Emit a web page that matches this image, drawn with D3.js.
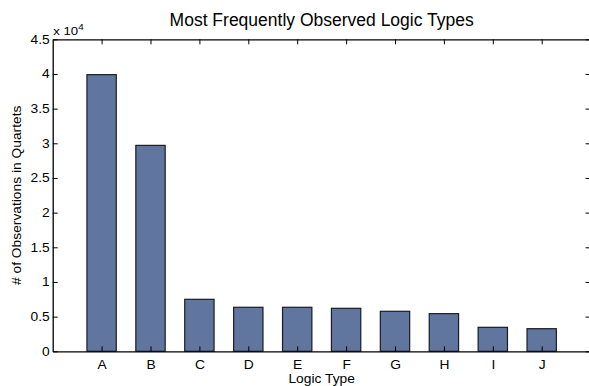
<html>
<head>
<script src="https://d3js.org/d3.v7.min.js"></script>
<style>
  body { margin: 0; background: #fff; }
  text { font-family: "Liberation Sans", Arial, sans-serif; fill: #000; }
</style>
</head>
<body>
<div id="chart_area"></div>
<script>
    // data
    let categories = ["A", "B", "C", "D", "E", "F", "G", "H", "I", "J"];
    let counts = [39900, 29700, 7500, 6350, 6350, 6200, 5770, 5430, 3460, 3260];
    let yTicks = [0, 5000, 10000, 15000, 20000, 25000, 30000, 35000, 40000, 45000];

    let width = 589;
    let height = 386;
    let margin = {left: 52.7, top: 39.3, right: 590.6, bottom: 351.3};
    let sx = 1.15; // the original's text is a bit wider than Liberation Sans

    let svg = d3.select("#chart_area").append("svg")
        .attr("width", width)
        .attr("height", height);

    // widen a text horizontally around its anchor point
    function stretch(sel) {
        sel.each(function() {
            let t = d3.select(this);
            let xv = +t.attr("x") || 0;
            t.attr("x", xv / sx).attr("transform", `scale(${sx},1)`);
        });
    }

    // x position = category index + 1, axis runs 0..11 like matlab
    let x = d3.scaleLinear().domain([0, categories.length + 1]).range([margin.left, margin.right]);
    let y = d3.scaleLinear().domain([0, 45000]).range([margin.bottom, margin.top]);
    let barW = (x(1) - x(0)) * 0.6;

    // bars
    svg.selectAll(".bar")
        .data(counts)
        .join("rect")
        .attr("class", "bar")
        .attr("x", (d, i) => x(i + 1) - barW / 2)
        .attr("y", d => y(d))
        .attr("width", barW)
        .attr("height", d => y(0) - y(d))
        .attr("fill", "#61769f")
        .attr("stroke", "#1a1c26")
        .attr("stroke-width", 1.2);

    // axes (ticks inward, box on all sides)
    let xAxis = d3.axisBottom(x)
        .tickValues(d3.range(1, categories.length + 1))
        .tickFormat(d => categories[d - 1])
        .tickSizeInner(-5).tickSizeOuter(0).tickPadding(9);
    let gx = svg.append("g").attr("transform", `translate(0,${margin.bottom})`).call(xAxis);

    let xTop = d3.axisTop(x)
        .tickValues(d3.range(1, categories.length + 1))
        .tickFormat("")
        .tickSizeInner(-5).tickSizeOuter(0);
    let gxt = svg.append("g").attr("transform", `translate(0,${margin.top})`).call(xTop);

    let yAxis = d3.axisLeft(y)
        .tickValues(yTicks)
        .tickFormat(d => d3.format("")(d / 10000))
        .tickSizeInner(-5).tickSizeOuter(0).tickPadding(3);
    let gy = svg.append("g").attr("transform", `translate(${margin.left},0)`).call(yAxis);

    let yRight = d3.axisRight(y)
        .tickValues(yTicks)
        .tickFormat("")
        .tickSizeInner(-5).tickSizeOuter(0);
    let gyr = svg.append("g").attr("transform", `translate(${margin.right},0)`).call(yRight);

    [gx, gxt, gy, gyr].forEach(g => {
        g.select(".domain").attr("stroke", "#000").attr("stroke-width", 1.3);
        g.selectAll(".tick line").attr("stroke", "#000");
        g.selectAll("text").style("font-size", "12px").attr("fill", "#000");
    });
    gx.selectAll(".tick text").call(stretch);
    gy.selectAll(".tick text").call(stretch);

    // exponent label
    svg.append("text")
        .attr("x", margin.left + 0.5)
        .attr("y", 35)
        .style("font-size", "11.5px")
        .text("x 10")
        .call(stretch)
        .append("tspan")
        .attr("dy", -5)
        .style("font-size", "8.5px")
        .text("4");

    // title and labels
    svg.append("text")
        .attr("x", (margin.left + margin.right) / 2)
        .attr("y", 26)
        .attr("text-anchor", "middle")
        .style("font-size", "17.5px")
        .text("Most Frequently Observed Logic Types");

    svg.append("text")
        .attr("x", (margin.left + margin.right) / 2)
        .attr("y", 383)
        .attr("text-anchor", "middle")
        .style("font-size", "12px")
        .text("Logic Type")
        .call(stretch);

    svg.append("g")
        .attr("transform", `translate(21,${(margin.top + margin.bottom) / 2}) rotate(-90)`)
        .append("text")
        .attr("text-anchor", "middle")
        .style("font-size", "12px")
        .text("# of Observations in Quartets")
        .call(stretch);
</script>
</body>
</html>
